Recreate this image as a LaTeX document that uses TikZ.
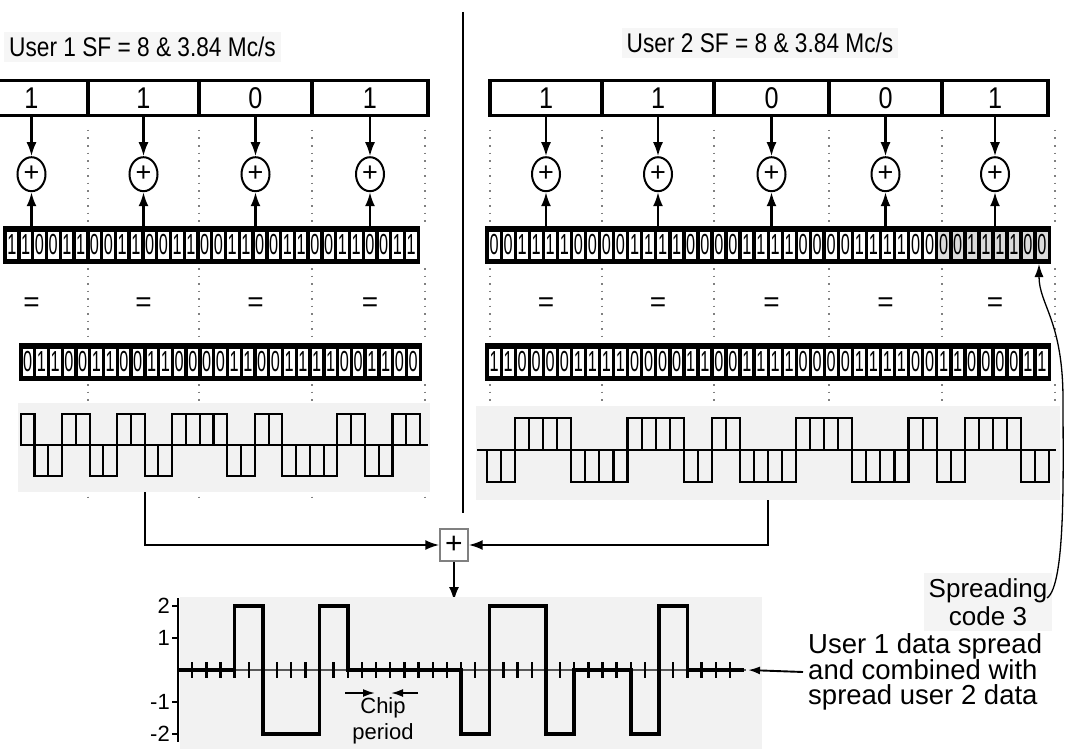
\documentclass[tikz,border=0pt]{standalone}
\usepackage{fontspec}
\setmainfont{Liberation Sans}
\newfontfamily\condf{Liberation Sans}[FakeStretch=0.84]
\newfontfamily\chipf{Liberation Sans}[FakeStretch=0.56]
\usetikzlibrary{arrows.meta,calc,shapes.geometric}
\tikzset{
  databox/.style={draw, line width=3.4pt, minimum height=35pt, inner sep=0pt, font=\condf\fontsize{30}{30}\selectfont},
  xorc/.style={draw, ellipse, line width=2pt, minimum width=28pt, minimum height=34pt, inner sep=0pt, font=\fontsize{27}{27}\selectfont},
  arr/.style={line width=2.1pt, -{Latex[length=14pt,width=10pt]}},
  sarr/.style={line width=1.9pt, -{Latex[length=12pt,width=8pt]}},
  rowbox/.style={draw, line width=3.6pt, fill=black, minimum height=34pt, inner sep=0pt},
  chip/.style={fill=white, draw=black, line width=0.6pt, minimum height=28pt, inner sep=0pt, font=\chipf\fontsize{29}{29}\selectfont},
  eqs/.style={font=\fontsize{28}{28}\selectfont, inner sep=0pt},
  ttl/.style={fill=gray!7, inner sep=5pt, font=\condf\fontsize{27}{27}\selectfont},
  dotl/.style={gray, line width=1.5pt, dash pattern=on 1.5pt off 6pt},
  wbg/.style={fill=gray!10, draw=none},
  wave/.style={line width=2.1pt},
  sig/.style={line width=3.6pt, line join=miter},
  lbl/.style={font=\fontsize{27.5}{25}\selectfont, align=left, inner sep=0pt},
}
\begin{document}
\begin{tikzpicture}[x=1pt,y=-1pt]
\useasboundingbox (0,0) rectangle (1065,749);
\fill[white] (0,0) rectangle (1065,749);

% titles
\node[ttl, anchor=west] (t1) at (4,47) {User 1 SF = 8 \& 3.84 Mc/s};
\node[ttl] (t2) at (760,43) {User 2 SF = 8 \& 3.84 Mc/s};

% divider
\coordinate (dv1) at (463,12);
\coordinate (dv2) at (463,513);
\draw[line width=1.8pt] (dv1) -- (dv2);

% dotted guide lines
\foreach \x in {88,199,312,425,490,602,714,829,942,1055}{
  \draw[dotl] (\x,130) -- (\x,225);
  \draw[dotl] (\x,268) -- (\x,340);
  \draw[dotl] (\x,384) -- (\x,500);
}

% waveform backgrounds
\fill[wbg] (18,403) rectangle (430,492);
\fill[wbg] (476,406) rectangle (1060,500);

% data bars
\foreach \a/\b/\v [count=\i] in {-25/88/1,88/199/1,199/312/0,312/428/1}{
  \node[databox, minimum width={\b-\a}] (dL\i) at ({(\a+\b)/2},98) {\v};
}
\foreach \a/\b/\v [count=\i] in {490/602/1,602/714/1,714/829/0,829/942/0,942/1048/1}{
  \node[databox, minimum width={\b-\a}] (dR\i) at ({(\a+\b)/2},98) {\v};
}

% chip rows (outer boxes)
\node[rowbox, minimum width=413pt] (crowL) at (211.5,245) {};
\node[rowbox, minimum width=399.5pt] (mrowL) at (220.4,362) {};
\node[rowbox, minimum width=562pt] (crowR) at (768,245) {};
\node[rowbox, minimum width=562pt] (mrowR) at (768,362) {};

% left chip row
\foreach \c [count=\i from 0] in {1,1,0,0,1,1,0,0,1,1,0,0,1,1,0,0,1,1,0,0,1,1,0,0,1,1,0,0,1,1}{
  \pgfmathsetmacro\xx{5+(\i+0.5)*13.77}
  \node[chip, minimum width=11.4pt] (cL\i) at (\xx,245) {\c};
}
% left combined row
\foreach \c [count=\i from 0] in {0,1,1,0,0,1,1,0,0,1,1,0,0,0,0,1,1,0,0,1,1,1,1,0,0,1,1,0,0}{
  \pgfmathsetmacro\xx{20.7+(\i+0.5)*13.77}
  \node[chip, minimum width=11.4pt] (mL\i) at (\xx,362) {\c};
  \pgfmathsetmacro\xa{20.7+\i*13.77}
  \pgfmathsetmacro\lev{ifthenelse(\c==0,414,476)}
  \draw[wave] (\xa,445) rectangle ({\xa+13.77},\lev);
}
% right chip row
\foreach \c [count=\i from 0] in {0,0,1,1,1,1,0,0,0,0,1,1,1,1,0,0,0,0,1,1,1,1,0,0,0,0,1,1,1,1,0,0,0,0,1,1,1,1,0,0}{
  \pgfmathsetmacro\xx{487+(\i+0.5)*14.05}
  \pgfmathtruncatemacro\gg{ifthenelse(\i>31,1,0)}
  \ifnum\gg=1
    \node[chip, minimum width=11.7pt, fill=gray!28] (cR\i) at (\xx,245) {\c};
  \else
    \node[chip, minimum width=11.7pt] (cR\i) at (\xx,245) {\c};
  \fi
}
% right combined row
\foreach \c [count=\i from 0] in {1,1,0,0,0,0,1,1,1,1,0,0,0,0,1,1,0,0,1,1,1,1,0,0,0,0,1,1,1,1,0,0,1,1,0,0,0,0,1,1}{
  \pgfmathsetmacro\xx{487+(\i+0.5)*14.05}
  \node[chip, minimum width=11.7pt] (mR\i) at (\xx,362) {\c};
  \pgfmathsetmacro\xa{487+\i*14.05}
  \pgfmathsetmacro\lev{ifthenelse(\c==0,418,482)}
  \draw[wave] (\xa,450) rectangle ({\xa+14.05},\lev);
}
% block separators
\foreach \x in {87.6,197.8,308}{ \draw[line width=3.6pt] (\x,228) -- (\x,262); }
\foreach \k in {1,2,3,4}{ \draw[line width=3.6pt] ({487+8*\k*14.05},228) -- ({487+8*\k*14.05},262); }

% baselines
\draw[wave] (20,445) -- (428,445);
\draw[wave] (477,450) -- (1056,450);

% XOR circles, arrows, equal signs
\foreach \i in {1,2,3,4}{
  \path (dL\i.south) ++(0,57) node[xorc] (xL\i) {+};
  \draw[arr] (dL\i.south) -- (xL\i.north);
  \draw[arr] (xL\i |- crowL.north) -- (xL\i.south);
  \node[eqs] (eL\i) at (xL\i |- 0,305) {=};
}
\foreach \i in {1,2,3,4,5}{
  \path (dR\i.south) ++(0,57) node[xorc] (xR\i) {+};
  \draw[arr] (dR\i.south) -- (xR\i.north);
  \draw[arr] (xR\i |- crowR.north) -- (xR\i.south);
  \node[eqs] (eR\i) at (xR\i |- 0,305) {=};
}

% summing box
\node[draw=gray, line width=1.4pt, minimum width=28pt, minimum height=32pt, inner sep=0pt, font=\fontsize{30}{30}\selectfont] (sum) at (454,545) {+};
\coordinate (wl) at (145,492);
\coordinate (wr) at (768,500);
\coordinate (ctop) at (454,601);
\draw[arr] (wl) |- (sum.west);
\draw[arr] (wr) |- (sum.east);
\draw[arr] (sum.south) -- (ctop);

% bottom chart
\fill[wbg] (180,597) rectangle (762,749);
\coordinate (ax1) at (178,598);
\coordinate (ax2) at (178,742);
\draw[line width=2pt] (ax1) -- (ax2);
\foreach \v/\t in {2/2,1/1,-1/-1,-2/-2}{
  \draw[line width=1.6pt] (172,{670-32*\v}) -- (178,{670-32*\v});
  \node[anchor=east, inner sep=0pt, font=\fontsize{22}{22}\selectfont] (yl\v) at (170,{670-32*\v}) {\t};
}
\draw[line width=1.6pt, gray!70!black] (178,670) -- (746,670);
\foreach \k in {1,...,39}{
  \draw[line width=2.4pt] ({178+14.15*\k},662) -- ({178+14.15*\k},678);
}
\begin{scope}[shift={(178,670)}, x=14.15pt, y=32pt]
\draw[sig] (0,0) -- (4,0) -- (4,2) -- (6,2) -- (6,-2) -- (10,-2) -- (10,2) -- (12,2) -- (12,0)
  -- (20,0) -- (20,-2) -- (22,-2) -- (22,2) -- (26,2) -- (26,-2) -- (28,-2) -- (28,0)
  -- (32,0) -- (32,-2) -- (34,-2) -- (34,2) -- (36,2) -- (36,0) -- (40,0);
\end{scope}
\coordinate (cend) at (748,670);

% chip period
\coordinate (cpa) at (345,693);
\coordinate (cpb) at (375,693);
\coordinate (cpc) at (418,693);
\coordinate (cpd) at (391,693);
\draw[sarr] (cpa) -- (cpb);
\draw[sarr] (cpc) -- (cpd);
\node[align=center, inner sep=0pt, font=\fontsize{22}{26}\selectfont] (cp) at (383,721) {Chip\\period};

% right label
\node[lbl, anchor=west] (lab) at (808,672) {User 1 data spread\\and combined with\\spread user 2 data};
\coordinate (labw) at (803,672);
\draw[sarr] (labw) -- (cend);

% spreading code label
\node[fill=gray!9, align=center, inner sep=5pt, font=\fontsize{26}{28}\selectfont] (spr) at (988,602) {Spreading\\code 3};
\coordinate (tipR) at (1039,264);
\coordinate (sprs) at (1047,598);
\draw[line width=1.3pt, -{Latex[length=13pt,width=9pt]}] (sprs) .. controls (1066,585) and (1063,470) .. (1063,400) .. controls (1063,320) and (1039,305) .. (tipR);

\end{tikzpicture}
\end{document}
